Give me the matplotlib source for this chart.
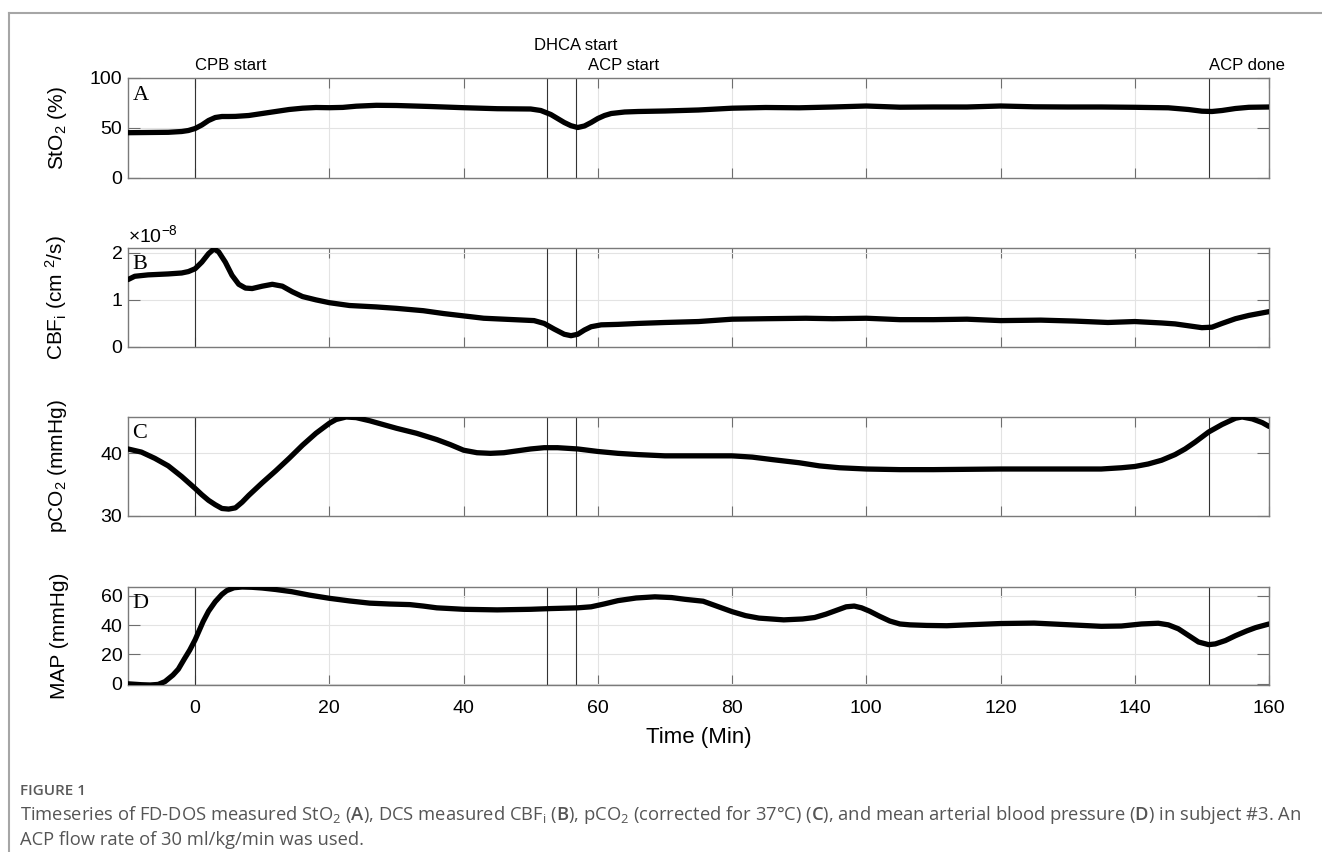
import numpy as np
import matplotlib
matplotlib.use("Agg")
import matplotlib.pyplot as plt
from matplotlib.lines import Line2D
from matplotlib.ticker import ScalarFormatter

plt.rcParams["font.family"] = ["Liberation Sans", "DejaVu Sans"]
plt.rcParams["mathtext.fontset"] = "custom"
plt.rcParams["mathtext.rm"] = "Open Sans"
plt.rcParams["mathtext.it"] = "Open Sans:italic"
plt.rcParams["mathtext.bf"] = "Open Sans:semibold"

# event markers (min)
events = [0, 52.5, 56.8, 151]

# StO2 (%)
t_sto2 = [-10, -7, -4, -2, -1, 0, 1, 2, 3, 4, 5, 6, 8, 10, 12, 14, 16, 18, 20, 22, 24, 27, 30, 35,
          40, 45, 50, 51.5, 53, 54, 55, 56, 57, 58, 59, 60, 61, 62, 64, 66, 70, 75, 80, 85, 90, 95,
          100, 105, 110, 115, 120, 125, 130, 135, 140, 145, 148, 150, 151.5, 153, 155, 157, 160]
sto2 = [45.3, 45.5, 45.7, 46.5, 47.5, 49.5, 53, 57.5, 60.5, 61.5, 61.5, 61.6, 62.5, 64.5, 66.5, 68.5,
        69.8, 70.5, 70.3, 70.6, 71.8, 72.7, 72.5, 71.5, 70.3, 69.3, 69, 67.5, 63.5, 59.5, 55.5, 52.3,
        50.5, 52, 55.5, 59.5, 62.5, 64.5, 66, 66.5, 67, 68, 69.8, 70.5, 70.2, 71, 72, 70.8, 71, 71,
        72, 71.2, 71, 71, 70.7, 70.2, 68.5, 66.8, 66.5, 67.5, 69.5, 70.7, 71]

# CBFi (x1e-8 cm^2/s)
t_cbf = [-10, -9, -7, -4, -2, -1, 0, 1, 2, 2.8, 3.5, 4.5, 5.5, 6.5, 7.5, 8.5, 10, 11.5, 13, 14.5, 16,
         18, 20, 23, 27, 30, 34, 37, 40, 43, 46, 49, 50.5, 52, 53.5, 55, 56, 57, 58, 59, 60.5, 63,
         66, 70, 75, 80, 85, 91, 95, 100, 105, 110, 115, 120, 126, 131, 136, 140, 144, 146, 148,
         150, 151.5, 153, 155, 157, 160]
cbf = [1.43, 1.5, 1.53, 1.55, 1.57, 1.6, 1.66, 1.8, 1.98, 2.08, 2.02, 1.8, 1.52, 1.33, 1.25, 1.24,
       1.29, 1.33, 1.29, 1.17, 1.07, 1.0, 0.94, 0.88, 0.85, 0.82, 0.77, 0.71, 0.66, 0.61, 0.59, 0.57,
       0.56, 0.5, 0.38, 0.27, 0.24, 0.27, 0.36, 0.43, 0.47, 0.48, 0.5, 0.52, 0.54, 0.59, 0.6, 0.61,
       0.6, 0.61, 0.58, 0.58, 0.59, 0.56, 0.57, 0.55, 0.52, 0.54, 0.51, 0.49, 0.45, 0.41, 0.42, 0.5,
       0.6, 0.67, 0.75]

# pCO2 (mmHg)
t_pco2 = [-10, -8, -6, -4, -2, 0, 1, 2, 3, 4, 5, 6, 7, 8, 10, 12, 14, 16, 18, 20, 21, 22.5, 24, 26,
          28, 30, 33, 36, 38, 40, 42, 44, 46, 48, 50, 52, 54, 57, 60, 63, 66, 70, 75, 80, 83, 86, 90,
          93, 96, 100, 105, 110, 120, 130, 135, 138, 140, 142, 144, 146, 147.5, 149, 151, 153, 155,
          156, 157.5, 159, 160]
pco2 = [40.7, 40.2, 39.2, 38.0, 36.3, 34.4, 33.4, 32.5, 31.8, 31.2, 31.1, 31.3, 32.2, 33.3, 35.3,
        37.2, 39.2, 41.3, 43.2, 44.8, 45.4, 45.8, 45.7, 45.2, 44.6, 44.0, 43.2, 42.2, 41.4, 40.5, 40.1,
        40.0, 40.1, 40.4, 40.7, 40.9, 40.9, 40.7, 40.3, 40.0, 39.8, 39.6, 39.6, 39.6, 39.4, 39.0, 38.5,
        38.0, 37.7, 37.5, 37.4, 37.4, 37.5, 37.5, 37.5, 37.7, 37.9, 38.3, 38.9, 39.8, 40.7, 41.8, 43.4,
        44.6, 45.6, 45.8, 45.5, 44.9, 44.3]

# MAP (mmHg)
t_map = [-10, -8, -6.7, -5.5, -4.5, -3.3, -2.5, -1.6, -0.8, 0, 1.2, 2, 3, 4, 4.7, 5.8, 7, 8.5, 10,
         12, 14.4, 17, 20, 23, 26, 29, 32, 34, 36, 40, 45, 50, 53, 57, 59, 61, 63, 65.7, 68.5, 71, 73,
         75.7, 78, 80, 82, 84, 87.7, 90.5, 92.3, 94, 95.5, 97, 98.2, 99.3, 100.5, 102, 103.5, 105,
         106.5, 109, 112, 115, 120, 125, 130, 135, 138, 141, 143.5, 145, 146.5, 148, 149.5, 151, 152,
         153.5, 155, 156.7, 158, 160]
mapp = [0, -0.6, -0.8, -0.4, 1.5, 6, 10, 17, 23, 30, 42.5, 49.5, 56, 61, 63.5, 65.5, 66, 65.8, 65.3,
        64.3, 62.8, 60.5, 58.3, 56.5, 55, 54.4, 54, 53, 51.8, 50.8, 50.4, 50.8, 51.3, 51.8, 52.5, 54.5,
        56.7, 58.5, 59.3, 58.8, 57.6, 56.3, 52.5, 49.2, 46.5, 44.8, 43.6, 44.2, 45.2, 47.5, 50, 52.5, 53,
        51.8, 49.5, 46, 42.8, 40.8, 40.2, 39.8, 39.6, 40.2, 41.1, 41.4, 40.3, 39.2, 39.4, 40.8, 41.3,
        40.2, 37.5, 33, 28.5, 26.7, 27.2, 29.5, 32.8, 36.1, 38.3, 40.8]

panels = [
    (t_sto2, np.array(sto2), r"StO$\mathregular{_2}$ (%)", (0, 100), [0, 50, 100], "A"),
    (t_cbf, np.array(cbf) * 1e-8, r"CBF$\mathregular{_i}$ (cm $\mathregular{^2}$/s)", (0, 2.1e-8), [0, 1e-8, 2e-8], "B"),
    (t_pco2, np.array(pco2), r"pCO$\mathregular{_2}$ (mmHg)", (30, 45.8), [30, 40], "C"),
    (t_map, np.array(mapp), "MAP (mmHg)", (-0.8, 66), [0, 20, 40, 60], "D"),
]

W, H = 1322, 852
fig = plt.figure(figsize=(W / 100, H / 100), dpi=100)

# axes boxes in pixels: (top, bottom)
boxes = [(78, 178), (248, 347), (417, 516), (587, 685)]
left, right = 128, 1269

axes = []
for (t, y, lab, ylim, yt, letter), (top, bot) in zip(panels, boxes):
    ax = fig.add_axes([left / W, 1 - bot / H, (right - left) / W, (bot - top) / H])
    ax.plot(t, y, color="black", lw=3.8, solid_joinstyle="round", solid_capstyle="round", zorder=3)
    for e in events:
        ax.axvline(e, color="#333333", lw=0.8, zorder=2)
    ax.set_xlim(-10, 160)
    ax.set_ylim(*ylim)
    ax.set_yticks(yt)
    ax.set_xticks(np.arange(0, 161, 20))
    ax.grid(True, color="#e3e3e3", lw=0.8, zorder=0)
    ax.tick_params(direction="in", top=True, right=True, labelsize=14, color="#6e6e6e",
                   width=0.8, pad=4)
    ax.tick_params(axis="x", length=7, pad=11)
    ax.tick_params(axis="y", length=8.5)
    for s in ax.spines.values():
        s.set_color("#7a7a7a")
        s.set_linewidth(1.0)
    ax.set_ylabel(lab, fontsize=15)
    ax.yaxis.set_label_coords(-0.052, 0.5)
    ax.text(0.004, 0.83, letter, transform=ax.transAxes, fontsize=16,
            family="Liberation Serif", ha="left", va="center", zorder=4)
    if letter != "D":
        ax.tick_params(labelbottom=False)
    axes.append(ax)

# CBF axis in units of 1e-8
fmt = ScalarFormatter()
fmt.set_powerlimits((-3, 3))
axes[1].yaxis.set_major_formatter(fmt)
axes[1].yaxis.get_offset_text().set_visible(False)
axes[1].text(0.0, 1.015, r"$\times$10$^{\mathregular{-8}}$", transform=axes[1].transAxes,
             fontsize=14, ha="left", va="bottom")

axes[3].set_xlabel("Time (Min)", fontsize=16, labelpad=7)

# event labels
ax0 = axes[0]
tr = ax0.get_xaxis_transform()
ax0.text(0, 1.13, "CPB start", transform=tr, fontsize=12, ha="left", va="center")
ax0.text(50.5, 1.33, "DHCA start", transform=tr, fontsize=12, ha="left", va="center")
ax0.text(58.6, 1.13, "ACP start", transform=tr, fontsize=12, ha="left", va="center")
ax0.text(151, 1.13, "ACP done", transform=tr, fontsize=12, ha="left", va="center")

# outer frame
fig.add_artist(Line2D([9 / W, 9 / W], [0, 1 - 13 / H], color="#a6a6a6", lw=1.5))
fig.add_artist(Line2D([9 / W, 1], [1 - 13 / H, 1 - 13 / H], color="#a6a6a6", lw=1.5))

# caption
fig.text(20 / W, 1 - 791 / H, "FIGURE 1", fontsize=11, family="Open Sans", weight="semibold",
         color="#5a5a5a", va="center")
cap1 = (r"Timeseries of FD-DOS measured StO$_2$ ($\mathbf{A}$), DCS measured CBF$_\mathrm{i}$ ($\mathbf{B}$), "
        r"pCO$_2$ (corrected for 37°C) ($\mathbf{C}$), and mean arterial blood pressure ($\mathbf{D}$) in subject #3. An")
fig.text(20 / W, 1 - 815 / H, cap1, fontsize=13.2, family="Open Sans", color="#555555", va="center")
fig.text(20 / W, 1 - 840 / H, "ACP flow rate of 30 ml/kg/min was used.", fontsize=13.2,
         family="Open Sans", color="#555555", va="center")

fig.savefig("out.png", dpi=100)
